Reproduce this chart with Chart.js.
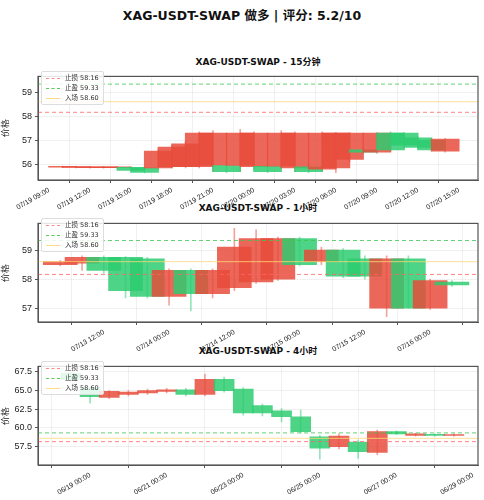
<!DOCTYPE html>
<html><head><meta charset="utf-8">
<script src="https://cdn.jsdelivr.net/npm/chart.js@4"></script>
<style>
body{margin:0;width:484px;height:500px;background:#fff;font-family:"DejaVu Sans","Noto Sans CJK SC",sans-serif;position:relative;overflow:hidden}
canvas{position:absolute;left:0}
.t{position:absolute;left:38px;width:440px;text-align:center;font-weight:bold;color:#111}
.lg{position:absolute;left:41px;background:rgba(255,255,255,0.85);border:1px solid #ddd;border-radius:2px;padding:1px 4px;font-size:6.5px;color:#333;line-height:10px}
.lg i{display:inline-block;width:14px;height:0;margin-right:5px;vertical-align:middle}
</style></head><body>
<div class="t" style="top:5px;left:0;width:484px;font-size:12.5px">XAG-USDT-SWAP 做多 | 评分: 5.2/10</div>
<div class="t" style="top:55px;font-size:9px">XAG-USDT-SWAP - 15分钟</div>
<div class="t" style="top:201px;font-size:9px">XAG-USDT-SWAP - 1小时</div>
<div class="t" style="top:344px;font-size:9px">XAG-USDT-SWAP - 4小时</div>
<canvas id="c1" width="484" height="152" style="top:68px"></canvas>
<canvas id="c2" width="484" height="147" style="top:215px"></canvas>
<canvas id="c3" width="484" height="147" style="top:358px"></canvas>
<script>
const stopLoss=58.16, takeProfit=59.33, entry=58.60;
// 15m panel: hours from 07/19 00:00
const t1=[10,11,12,13,14,15,16,17,18,19,20,21,22,23,24,25,26,27,28,29,30,31,32,33,34,35,36,37,38];
const o1=[55.92,55.91,55.90,55.90,55.90,55.75,55.66,56.55,56.72,56.85,57.30,57.30,55.70,57.30,57.30,55.70,57.30,57.30,55.70,57.30,57.30,57.30,56.50,57.30,56.60,56.80,56.70,56.60,57.05];
const c1=[55.88,55.87,55.86,55.86,55.86,55.88,55.85,55.85,55.90,55.90,55.90,55.95,55.95,55.95,55.90,55.92,55.92,55.85,55.90,55.80,55.85,56.20,56.60,56.50,57.30,57.30,57.10,57.00,56.55];
const h1=[55.93,55.92,55.91,55.91,55.91,55.90,55.88,56.60,56.80,56.95,57.35,57.40,56.10,57.45,57.35,56.00,57.40,57.35,55.95,57.35,57.32,57.32,56.70,57.32,57.35,57.32,57.15,57.05,57.08];
const l1=[55.86,55.85,55.84,55.84,55.84,55.70,55.64,55.80,55.85,55.85,55.85,55.70,55.65,55.70,55.80,55.65,55.85,55.70,55.65,55.70,55.65,56.10,56.45,56.45,56.55,56.75,56.65,56.55,56.50];
const xt1=[9,12,15,18,21,24,27,30,33,36,39];
// 1h panel: hours from 07/13 00:00
const t2=[4,8,12,16,20,24,28,32,36,40,44,48,52,56,60,64,68,72,76];
const o2=[58.60,58.75,58.30,57.60,57.40,58.30,57.50,58.30,59.10,59.40,59.40,58.50,59.00,58.10,58.10,58.70,57.00,57.95,57.80];
const c2=[58.50,58.55,58.75,58.75,58.70,57.40,58.30,57.50,57.70,57.90,58.00,59.40,58.60,59.00,58.70,57.00,58.70,57.00,57.90];
const h2=[58.65,58.80,58.80,58.78,58.75,58.35,58.35,58.35,59.75,59.70,59.45,59.45,59.10,59.05,58.80,58.80,58.80,58.00,57.95];
const l2=[58.45,58.30,58.20,57.35,57.35,57.10,56.90,57.35,57.60,57.85,57.95,58.45,58.50,58.05,58.00,56.70,57.00,56.95,57.75];
const xt2=[12,24,36,48,60,72];
// 4h panel: days from 06/19 00:00
const t3=[-0.5,0,0.5,1,1.5,2,2.5,3,3.5,4,4.5,5,5.5,6,6.5,7,7.5,8,8.5,9,9.5];
const o3=[66.5,64.2,64.9,64.8,65.0,65.1,64.5,66.5,65.0,62.0,62.0,61.5,59.5,57.3,58.9,56.8,59.5,59.2,59.2,59.0,59.1];
const c3=[67.3,65.4,64.1,64.5,64.7,64.9,65.1,64.5,66.5,65.2,63.0,62.3,61.5,58.8,57.5,58.1,56.7,59.5,59.0,59.15,59.0];
const h3=[67.5,65.6,65.0,65.0,65.2,65.3,65.3,67.2,66.8,65.4,63.2,62.6,62.4,59.0,59.2,58.4,59.7,59.6,59.3,59.2,59.2];
const l3=[66.3,63.3,63.9,64.3,64.5,64.7,64.3,64.3,64.8,61.7,61.6,60.8,59.3,55.8,57.2,55.9,56.4,59.1,58.9,58.9,58.9];
const xt3=[0,2,4,6,8,10];

const RED='rgba(231,76,60,0.85)', GRN='rgba(46,204,113,0.85)';
const pad=n=>String(n).padStart(2,'0');
function fmtH(mo,day,h){const d=day+Math.floor(h/24);const hh=((h%24)+24)%24;return pad(mo)+'/'+pad(d)+' '+pad(hh)+':00';}
const frame={id:'frame',afterDraw(ch){const a=ch.chartArea,x=ch.ctx;x.save();x.strokeStyle='#555';x.lineWidth=1.2;x.strokeRect(a.left,a.top,a.right-a.left,a.bottom-a.top);x.restore();}};
function make(id,t,o,c,h,l,xmin,xmax,ymin,ymax,yticks,xticks,fmt,bw,ydec){
  const body=t.map((v,i)=>({x:v,y:[o[i],c[i]]}));
  const wick=t.map((v,i)=>({x:v,y:[l[i],h[i]]}));
  const cols=t.map((v,i)=>c[i]>=o[i]?GRN:RED);
  const wcols=t.map((v,i)=>c[i]>=o[i]?'rgba(46,204,113,0.5)':'rgba(231,76,60,0.5)');
  const hl=(y,col,dash,w)=>({type:'line',data:[{x:xmin,y},{x:xmax,y}],borderColor:col,borderDash:dash,borderWidth:w,pointRadius:0,order:0});
  new Chart(document.getElementById(id),{type:'bar',
    data:{datasets:[
      {data:wick,backgroundColor:wcols,barThickness:1,order:3,grouped:false},
      {data:body,backgroundColor:cols,barThickness:bw,order:2,grouped:false},
      hl(stopLoss,'rgba(255,100,100,0.8)',[4,3],1),
      hl(takeProfit,'rgba(60,200,80,0.8)',[4,3],1),
      hl(entry,'rgba(255,215,120,0.8)',[],1)]},
    options:{responsive:false,animation:false,layout:{padding:{right:6,top:0,left:0}},
      plugins:{legend:{display:false},tooltip:{enabled:false}},
      scales:{
        x:{type:'linear',min:xmin,max:xmax,offset:false,
          afterBuildTicks:s=>{s.ticks=xticks.map(v=>({value:v}));},
          afterFit:s=>{s.height=40;},
          ticks:{callback:fmt,maxRotation:30,minRotation:30,font:{size:7},color:'#222',autoSkip:false},
          grid:{color:'rgba(0,0,0,0.06)',tickColor:'#555',tickLength:3},border:{color:'#555'}},
        y:{min:ymin,max:ymax,
          afterBuildTicks:s=>{s.ticks=yticks.map(v=>({value:v}));},
          afterFit:s=>{s.width=38;},
          ticks:{callback:v=>v.toFixed(ydec),font:{size:9},color:'#222'},
          title:{display:true,text:'价格',font:{size:9},color:'#222',padding:0},
          grid:{color:'rgba(0,0,0,0.06)',tickColor:'#555',tickLength:3},border:{color:'#555'}}}},
    plugins:[frame]});
}
make('c1',t1,o1,c1,h1,l1,8.2,40.4,55.35,59.65,[56,57,58,59],xt1,v=>fmtH(7,19,v),28,0);
make('c2',t2,o2,c2,h2,l2,-0.1,80.8,56.52,59.92,[57,58,59],xt2,v=>fmtH(7,13,v),34,0);
make('c3',t3,o3,c3,h3,l3,-1.36,10.13,55.03,68.24,[57.5,60,62.5,65,67.5],xt3,v=>'06/'+pad(19+v)+' 00:00',20,1);
</script>
<div class="lg" style="top:71px"><div><i style="border-top:1px dashed #f88"></i>止损 58.16</div><div><i style="border-top:1px dashed #5c5"></i>止盈 59.33</div><div><i style="border-top:1px solid #fd8"></i>入场 58.60</div></div>
<div class="lg" style="top:218px"><div><i style="border-top:1px dashed #f88"></i>止损 58.16</div><div><i style="border-top:1px dashed #5c5"></i>止盈 59.33</div><div><i style="border-top:1px solid #fd8"></i>入场 58.60</div></div>
<div class="lg" style="top:361px"><div><i style="border-top:1px dashed #f88"></i>止损 58.16</div><div><i style="border-top:1px dashed #5c5"></i>止盈 59.33</div><div><i style="border-top:1px solid #fd8"></i>入场 58.60</div></div>
</body></html>
